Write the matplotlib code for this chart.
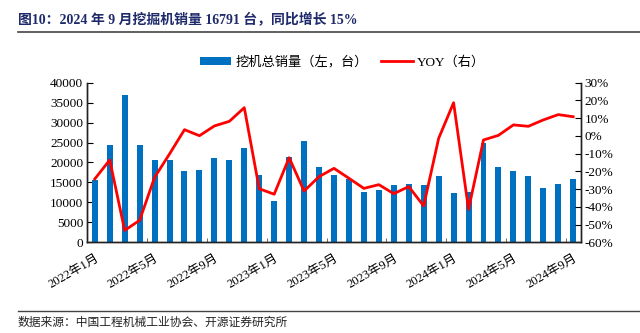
import matplotlib
matplotlib.use("Agg")
import matplotlib.pyplot as plt
import numpy as np
from matplotlib.lines import Line2D
from matplotlib.patches import Patch

months = [f"{y}年{m}月" for y in (2022, 2023, 2024) for m in range(1, 13)][:33]
sales = [15600, 24400, 37000, 24400, 20600, 20700, 17900, 18100, 21200, 20500,
         23700, 16900, 10400, 21400, 25500, 18800, 16800, 15800, 12600, 13100,
         14300, 14600, 14300, 16600, 12400, 12600, 24900, 18800, 17800, 16500,
         13600, 14600, 15800]
yoy = [-24.3, -13.6, -53.3, -47.6, -23.4, -10.2, 3.5, 0.1, 5.6, 8.2,
       15.9, -29.8, -32.9, -12.3, -31.1, -23.0, -18.3, -23.9, -29.6, -27.5,
       -32.6, -28.6, -39.5, -1.4, 18.7, -41.4, -2.3, 0.3, 6.2, 5.4,
       9.0, 12.0, 10.8]
left_ticks = [0, 5000, 10000, 15000, 20000, 25000, 30000, 35000, 40000]
right_ticks = [-60, -50, -40, -30, -20, -10, 0, 10, 20, 30]

FONT = ['Liberation Serif', 'Noto Sans CJK SC']
plt.rcParams['font.family'] = FONT

fig = plt.figure(figsize=(6.4, 3.33), dpi=100)
ax = fig.add_axes([0.1364, 0.2724, 0.9073 - 0.1364, 0.7517 - 0.2724])
ax2 = ax.twinx()

x = np.arange(len(months))
ax.bar(x, sales, width=0.4, color='#0070C0', zorder=2)
ax2.plot(x, yoy, color='#FF0000', lw=2.0, zorder=3)

ax.set_xlim(-0.5, len(months) - 0.5)
ax.set_ylim(0, 40000)
ax2.set_ylim(-60, 30)
ax.set_yticks(left_ticks)
ax.set_yticklabels([f"{v}" for v in left_ticks], fontsize=9.5)
ax2.set_yticks(right_ticks)
ax2.set_yticklabels([f"{v}%" for v in right_ticks], fontsize=9.5)

lab_idx = list(range(0, len(months), 4))
ax.set_xticks(lab_idx)
ax.set_xticklabels([months[i] for i in lab_idx], rotation=30, ha='right',
                   rotation_mode='anchor', fontsize=9)
ax.tick_params(axis='x', which='major', length=0, pad=7)
ax.set_xticks(np.arange(3.5, len(months), 4), minor=True)
ax.tick_params(axis='x', which='minor', direction='in', length=3, color='#555555')
ax.tick_params(axis='y', direction='in', length=4, pad=3)
ax2.tick_params(axis='y', direction='in', length=4, pad=3)

for a in (ax, ax2):
    a.spines['top'].set_visible(False)
    for s in ('left', 'right', 'bottom'):
        a.spines[s].set_color('#222222')
        a.spines[s].set_linewidth(1.0)

handles = [Patch(facecolor='#0070C0', label='挖机总销量（左，台）'),
           Line2D([0], [0], color='#FF0000', lw=2, label='YOY（右）')]
fig.legend(handles=handles, loc='center', bbox_to_anchor=(0.535, 0.813), ncol=2,
           frameon=False, fontsize=9.5, handlelength=2.4, handleheight=0.6,
           columnspacing=1.0, handletextpad=0.3)

fig.text(0.028, 0.94, "图10：2024 年 9 月挖掘机销量 16791 台，同比增长 15%",
         fontsize=10, fontweight='bold', color='#1F2A6B', va='center', ha='left')
fig.add_artist(Line2D([0.028, 1.0], [0.905, 0.905], color='#444444', lw=1.2))
fig.add_artist(Line2D([0.028, 1.0], [0.066, 0.066], color='#444444', lw=1.0))
fig.text(0.028, 0.03, "数据来源：中国工程机械工业协会、开源证券研究所",
         fontsize=8.5, color='#222222', va='center', ha='left')

fig.savefig("out.png", dpi=100)
